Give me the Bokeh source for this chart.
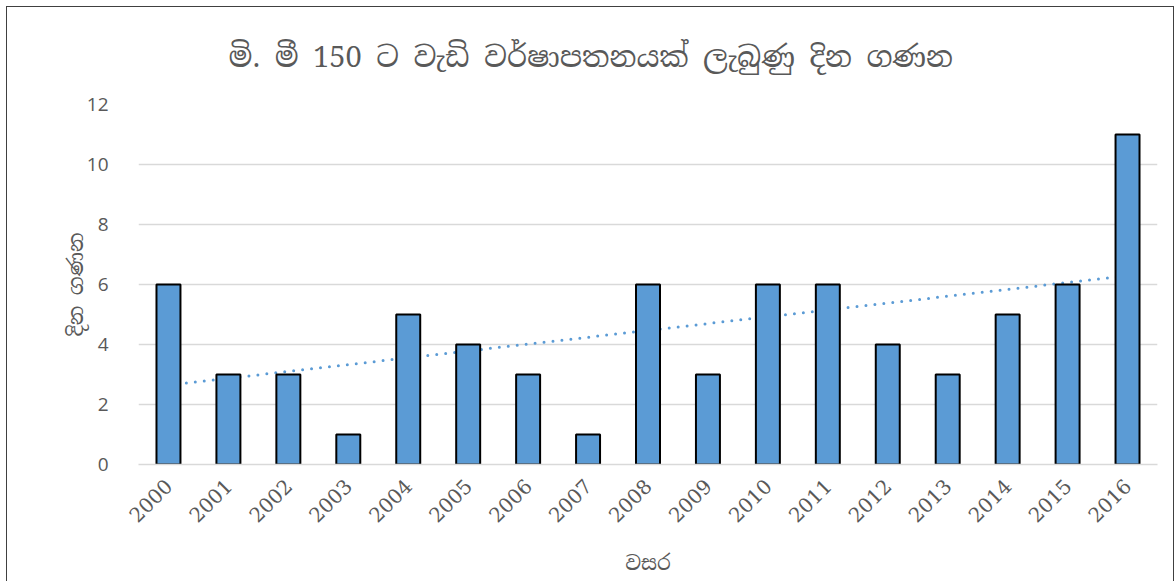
import math
from bokeh.plotting import figure
from bokeh.models import ColumnDataSource, Range1d, FixedTicker
from bokeh.embed import file_html
from bokeh.resources import INLINE

years = ["2000", "2001", "2002", "2003", "2004", "2005", "2006", "2007", "2008",
         "2009", "2010", "2011", "2012", "2013", "2014", "2015", "2016"]
days = [6, 3, 3, 1, 5, 4, 3, 1, 6, 3, 6, 6, 4, 3, 5, 6, 11]

title_text = "මි. මී 150 ට වැඩි වර්ෂාපතනයක් ලැබුණු දින ගණන"
x_label = "වසර"
y_label = "දින ගණන"

# linear trendline (least squares, as in the spreadsheet chart)
n = len(days)
xs = list(range(n))
mx = sum(xs) / n
my = sum(days) / n
slope = sum((x - mx) * (y - my) for x, y in zip(xs, days)) / sum((x - mx) ** 2 for x in xs)
icpt = my - slope * mx
trend_y = [icpt + slope * x for x in (0, n - 1)]
trend_x = [years[0], years[-1]]

SIN = "Noto Serif Sinhala, Iskoola Pota, Noto Sans Sinhala, serif"
GREY = "#595959"

p = figure(x_range=years, y_range=Range1d(0, 12), width=1168, height=575,
           output_backend="svg", toolbar_location=None,
           min_border_left=131, min_border_right=18, min_border_top=97,
           min_border_bottom=118)
p.margin = (6, 0, 0, 6)
p.styles = {"border": "1px solid #404040", "border-bottom": "none"}

p.line(x=trend_x, y=trend_y, line_color="#5B9BD5", line_width=3,
       line_dash="0 9", line_cap="round")

src = ColumnDataSource(dict(x=years, top=days))
p.vbar(x="x", top="top", width=0.4, source=src, fill_color="#5B9BD5",
       line_color="black", line_width=2)

p.title.text = title_text
p.title.align = "left"
p.title.offset = 90
p.title.text_font = SIN
p.title.text_font_size = "29px"
p.title.text_font_style = "normal"
p.title.text_color = GREY
p.title.standoff = 57

p.outline_line_color = None
p.border_fill_color = "white"
p.background_fill_color = "white"

p.xgrid.grid_line_color = None
p.ygrid.grid_line_color = "#D9D9D9"
p.ygrid.grid_line_width = 1.5

p.yaxis.ticker = FixedTicker(ticks=[0, 2, 4, 6, 8, 10, 12])
p.yaxis.axis_line_color = None
p.yaxis.major_tick_line_color = None
p.yaxis.minor_tick_line_color = None
p.yaxis.major_label_text_font = "Open Sans"
p.yaxis.major_label_text_font_size = "19px"
p.yaxis.major_label_text_color = GREY
p.yaxis.major_label_standoff = 24
p.yaxis.axis_label = y_label
p.yaxis.axis_label_text_font = SIN
p.yaxis.axis_label_text_font_size = "21px"
p.yaxis.axis_label_text_font_style = "normal"
p.yaxis.axis_label_text_color = GREY
p.yaxis.axis_label_standoff = -5

p.xaxis.axis_line_color = "#D9D9D9"
p.xaxis.axis_line_width = 1.5
p.xaxis.major_tick_line_color = None
p.xaxis.minor_tick_line_color = None
p.xaxis.major_label_orientation = math.pi / 4
p.xaxis.major_label_text_font = "DejaVu Serif"
p.xaxis.major_label_text_font_size = "20px"
p.xaxis.major_label_text_color = GREY
p.xaxis.major_label_standoff = 12
p.xaxis.axis_label = x_label
p.xaxis.axis_label_text_font = SIN
p.xaxis.axis_label_text_font_size = "20px"
p.xaxis.axis_label_text_font_style = "normal"
p.xaxis.axis_label_text_color = GREY
p.xaxis.axis_label_standoff = 18

open("out.html", "w").write(file_html(p, INLINE))
